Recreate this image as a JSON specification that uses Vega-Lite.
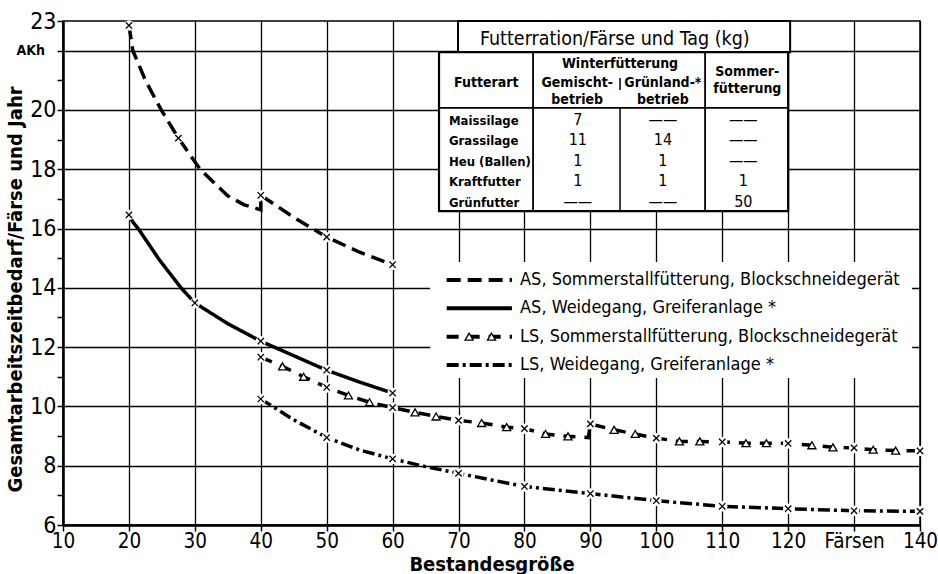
{
  "$schema": "https://vega.github.io/schema/vega-lite/v6.json",
  "width": 857,
  "height": 504,
  "autosize": {"type": "none"},
  "padding": {"left": 63, "top": 21, "right": 18, "bottom": 49},
  "background": "white",
  "datasets": {
    "curves": [
      {"series": "AS, Sommerstallfütterung, Blockschneidegerät", "x": 20, "y": 22.85, "m": "x"},
      {"series": "AS, Sommerstallfütterung, Blockschneidegerät", "x": 20.6, "y": 22.0},
      {"series": "AS, Sommerstallfütterung, Blockschneidegerät", "x": 22.5, "y": 21.0},
      {"series": "AS, Sommerstallfütterung, Blockschneidegerät", "x": 24.9, "y": 20.0},
      {"series": "AS, Sommerstallfütterung, Blockschneidegerät", "x": 27.5, "y": 19.05, "m": "x"},
      {"series": "AS, Sommerstallfütterung, Blockschneidegerät", "x": 30.8, "y": 18.0},
      {"series": "AS, Sommerstallfütterung, Blockschneidegerät", "x": 35, "y": 17.1},
      {"series": "AS, Sommerstallfütterung, Blockschneidegerät", "x": 37.5, "y": 16.8},
      {"series": "AS, Sommerstallfütterung, Blockschneidegerät", "x": 40, "y": 16.63},
      {"series": "AS, Sommerstallfütterung, Blockschneidegerät", "x": 40, "y": 17.12, "m": "x"},
      {"series": "AS, Sommerstallfütterung, Blockschneidegerät", "x": 45, "y": 16.38},
      {"series": "AS, Sommerstallfütterung, Blockschneidegerät", "x": 50, "y": 15.71, "m": "x"},
      {"series": "AS, Sommerstallfütterung, Blockschneidegerät", "x": 55, "y": 15.2},
      {"series": "AS, Sommerstallfütterung, Blockschneidegerät", "x": 60, "y": 14.78, "m": "x"},
      {"series": "AS, Weidegang, Greiferanlage *", "x": 20, "y": 16.46, "m": "x"},
      {"series": "AS, Weidegang, Greiferanlage *", "x": 20.6, "y": 16.22},
      {"series": "AS, Weidegang, Greiferanlage *", "x": 21.4, "y": 16.0},
      {"series": "AS, Weidegang, Greiferanlage *", "x": 24.6, "y": 14.95},
      {"series": "AS, Weidegang, Greiferanlage *", "x": 27.9, "y": 14.0},
      {"series": "AS, Weidegang, Greiferanlage *", "x": 30, "y": 13.49, "m": "x"},
      {"series": "AS, Weidegang, Greiferanlage *", "x": 35, "y": 12.79},
      {"series": "AS, Weidegang, Greiferanlage *", "x": 40, "y": 12.2, "m": "x"},
      {"series": "AS, Weidegang, Greiferanlage *", "x": 45, "y": 11.71},
      {"series": "AS, Weidegang, Greiferanlage *", "x": 50, "y": 11.22, "m": "x"},
      {"series": "AS, Weidegang, Greiferanlage *", "x": 55, "y": 10.82},
      {"series": "AS, Weidegang, Greiferanlage *", "x": 60, "y": 10.45, "m": "x"},
      {"series": "LS, Sommerstallfütterung, Blockschneidegerät", "x": 40, "y": 11.66, "m": "x"},
      {"series": "LS, Sommerstallfütterung, Blockschneidegerät", "x": 43.3, "y": 11.35, "m": "tri"},
      {"series": "LS, Sommerstallfütterung, Blockschneidegerät", "x": 46.5, "y": 11.0, "m": "tri"},
      {"series": "LS, Sommerstallfütterung, Blockschneidegerät", "x": 50, "y": 10.64, "m": "x"},
      {"series": "LS, Sommerstallfütterung, Blockschneidegerät", "x": 53.3, "y": 10.37, "m": "tri"},
      {"series": "LS, Sommerstallfütterung, Blockschneidegerät", "x": 56.5, "y": 10.14, "m": "tri"},
      {"series": "LS, Sommerstallfütterung, Blockschneidegerät", "x": 60, "y": 9.96, "m": "x"},
      {"series": "LS, Sommerstallfütterung, Blockschneidegerät", "x": 63.4, "y": 9.8, "m": "tri"},
      {"series": "LS, Sommerstallfütterung, Blockschneidegerät", "x": 66.6, "y": 9.66, "m": "tri"},
      {"series": "LS, Sommerstallfütterung, Blockschneidegerät", "x": 70, "y": 9.53, "m": "x"},
      {"series": "LS, Sommerstallfütterung, Blockschneidegerät", "x": 73.5, "y": 9.44, "m": "tri"},
      {"series": "LS, Sommerstallfütterung, Blockschneidegerät", "x": 77.3, "y": 9.3, "m": "tri"},
      {"series": "LS, Sommerstallfütterung, Blockschneidegerät", "x": 80, "y": 9.25, "m": "x"},
      {"series": "LS, Sommerstallfütterung, Blockschneidegerät", "x": 83.2, "y": 9.07, "m": "tri"},
      {"series": "LS, Sommerstallfütterung, Blockschneidegerät", "x": 86.6, "y": 8.99, "m": "tri"},
      {"series": "LS, Sommerstallfütterung, Blockschneidegerät", "x": 89.7, "y": 8.95},
      {"series": "LS, Sommerstallfütterung, Blockschneidegerät", "x": 90, "y": 9.41, "m": "x"},
      {"series": "LS, Sommerstallfütterung, Blockschneidegerät", "x": 93.6, "y": 9.21, "m": "tri"},
      {"series": "LS, Sommerstallfütterung, Blockschneidegerät", "x": 96.8, "y": 9.07, "m": "tri"},
      {"series": "LS, Sommerstallfütterung, Blockschneidegerät", "x": 100, "y": 8.93, "m": "x"},
      {"series": "LS, Sommerstallfütterung, Blockschneidegerät", "x": 103.5, "y": 8.82, "m": "tri"},
      {"series": "LS, Sommerstallfütterung, Blockschneidegerät", "x": 106.6, "y": 8.82, "m": "tri"},
      {"series": "LS, Sommerstallfütterung, Blockschneidegerät", "x": 110, "y": 8.8, "m": "x"},
      {"series": "LS, Sommerstallfütterung, Blockschneidegerät", "x": 113.6, "y": 8.76, "m": "tri"},
      {"series": "LS, Sommerstallfütterung, Blockschneidegerät", "x": 116.7, "y": 8.76, "m": "tri"},
      {"series": "LS, Sommerstallfütterung, Blockschneidegerät", "x": 120, "y": 8.75, "m": "x"},
      {"series": "LS, Sommerstallfütterung, Blockschneidegerät", "x": 123.6, "y": 8.69, "m": "tri"},
      {"series": "LS, Sommerstallfütterung, Blockschneidegerät", "x": 126.8, "y": 8.62, "m": "tri"},
      {"series": "LS, Sommerstallfütterung, Blockschneidegerät", "x": 130, "y": 8.6, "m": "x"},
      {"series": "LS, Sommerstallfütterung, Blockschneidegerät", "x": 132.9, "y": 8.54, "m": "tri"},
      {"series": "LS, Sommerstallfütterung, Blockschneidegerät", "x": 136.3, "y": 8.51, "m": "tri"},
      {"series": "LS, Sommerstallfütterung, Blockschneidegerät", "x": 140, "y": 8.5, "m": "x"},
      {"series": "LS, Weidegang, Greiferanlage *", "x": 40, "y": 10.25, "m": "x"},
      {"series": "LS, Weidegang, Greiferanlage *", "x": 45, "y": 9.55},
      {"series": "LS, Weidegang, Greiferanlage *", "x": 50, "y": 8.95, "m": "x"},
      {"series": "LS, Weidegang, Greiferanlage *", "x": 55, "y": 8.53},
      {"series": "LS, Weidegang, Greiferanlage *", "x": 60, "y": 8.23, "m": "x"},
      {"series": "LS, Weidegang, Greiferanlage *", "x": 65, "y": 7.97},
      {"series": "LS, Weidegang, Greiferanlage *", "x": 70, "y": 7.74, "m": "x"},
      {"series": "LS, Weidegang, Greiferanlage *", "x": 75, "y": 7.52},
      {"series": "LS, Weidegang, Greiferanlage *", "x": 80, "y": 7.3, "m": "x"},
      {"series": "LS, Weidegang, Greiferanlage *", "x": 90, "y": 7.06, "m": "x"},
      {"series": "LS, Weidegang, Greiferanlage *", "x": 100, "y": 6.82, "m": "x"},
      {"series": "LS, Weidegang, Greiferanlage *", "x": 110, "y": 6.63, "m": "x"},
      {"series": "LS, Weidegang, Greiferanlage *", "x": 120, "y": 6.55, "m": "x"},
      {"series": "LS, Weidegang, Greiferanlage *", "x": 130, "y": 6.48, "m": "x"},
      {"series": "LS, Weidegang, Greiferanlage *", "x": 140, "y": 6.46, "m": "x"}
    ],
    "table": [
      {"futterart": "Maissilage", "gemischt": "7", "gruenland": "——", "sommer": "——"},
      {"futterart": "Grassilage", "gemischt": "11", "gruenland": "14", "sommer": "——"},
      {"futterart": "Heu (Ballen)", "gemischt": "1", "gruenland": "1", "sommer": "——"},
      {"futterart": "Kraftfutter", "gemischt": "1", "gruenland": "1", "sommer": "1"},
      {"futterart": "Grünfutter", "gemischt": "——", "gruenland": "——", "sommer": "50"}
    ]
  },
  "layer": [
    {
      "layer": [
        {
          "data": {"values": [{}]},
          "mark": {"type": "rect", "fill": "white", "strokeWidth": 0},
          "encoding": {
            "x": {"datum": 65.7, "scale": {"domain": [10, 140], "nice": false, "zero": false}},
            "x2": {"datum": 138.8},
            "y": {"datum": 10.96, "scale": {"domain": [6, 23], "nice": false, "zero": false}},
            "y2": {"datum": 14.87}
          }
        },
        {
          "data": {"name": "curves"},
          "mark": {"type": "line", "color": "black", "strokeWidth": 3.5, "interpolate": "linear"},
          "encoding": {
            "x": {
              "field": "x", "type": "quantitative",
              "axis": {
                "values": [10, 20, 30, 40, 50, 60, 70, 80, 90, 100, 110, 120, 130, 140],
                "tickCount": 30, "format": "d",
                "title": "Bestandesgröße",
                "labelExpr": "datum.value == 130 ? 'Färsen' : datum.label",
                "grid": true, "gridColor": "black", "gridWidth": 1.3, "gridOpacity": 1,
                "domainColor": "black", "domainWidth": 2.5,
                "tickColor": "black", "tickSize": 6, "tickWidth": 1.5,
                "labelFontSize": 20.5, "labelColor": "black", "labelPadding": 0,
                "labelFlush": false, "labelOverlap": false,
                "titleFontSize": 20, "titleFontWeight": "bold", "titleColor": "black",
                "titleY": 45, "titleBaseline": "alphabetic"
              }
            },
            "y": {
              "field": "y", "type": "quantitative",
              "axis": {
                "values": [6, 7, 8, 9, 10, 11, 12, 13, 14, 15, 16, 17, 18, 19, 20, 21, 22, 23],
                "tickCount": 40, "format": "d",
                "title": "Gesamtarbeitszeitbedarf/Färse und Jahr",
                "labelExpr": "datum.value == 22 ? '' : ((datum.value % 2 == 0 || datum.value > 22.5) ? datum.label : '')",
                "grid": true, "gridColor": "black", "gridWidth": 1.3,
                "gridOpacity": {"condition": {"test": "datum.value % 2 == 1", "value": 0}, "value": 1},
                "domainColor": "black", "domainWidth": 2.5,
                "tickColor": "black", "tickSize": 6, "tickWidth": 1.5,
                "labelFontSize": 23, "labelColor": "black", "labelPadding": 1,
                "labelFlush": false, "labelOverlap": false, "labelBound": false,
                "titleFontSize": 20, "titleFontWeight": "bold", "titleColor": "black", "titlePadding": 4,
                "titleY": 268
              }
            },
            "strokeDash": {
              "field": "series", "type": "nominal",
              "scale": {
                "domain": ["AS, Sommerstallfütterung, Blockschneidegerät", "AS, Weidegang, Greiferanlage *", "LS, Sommerstallfütterung, Blockschneidegerät", "LS, Weidegang, Greiferanlage *"],
                "range": [[14, 7], [1, 0], [12, 9], [12, 4, 3, 4]]
              },
              "legend": null
            },
            "order": {"value": null}
          }
        },
        {
          "data": {"name": "curves"},
          "transform": [{"filter": {"field": "m", "equal": "x"}}],
          "mark": {"type": "point", "filled": true, "fill": "white", "strokeWidth": 0, "size": 110, "opacity": 1},
          "encoding": {
            "x": {"field": "x", "type": "quantitative"},
            "y": {"field": "y", "type": "quantitative"}
          }
        },
        {
          "data": {"name": "curves"},
          "transform": [{"filter": {"field": "m", "oneOf": ["x", "tri"]}}],
          "mark": {"type": "point", "filled": true, "fill": "white", "stroke": "black", "strokeWidth": 1.3, "opacity": 1},
          "encoding": {
            "x": {"field": "x", "type": "quantitative"},
            "y": {"field": "y", "type": "quantitative"},
            "shape": {
              "field": "m", "type": "nominal",
              "scale": {"domain": ["x", "tri"], "range": ["M-1,-1L1,1M-1,1L1,-1", "triangle-up"]},
              "legend": null
            },
            "size": {
              "field": "m", "type": "nominal",
              "scale": {"domain": ["x", "tri"], "range": [40, 65]},
              "legend": null
            }
          }
        },
        {
          "data": {"values": [{}]},
          "mark": {"type": "rect", "fill": "white", "stroke": "black", "strokeWidth": 2},
          "encoding": {"x": {"datum": 69.92}, "x2": {"datum": 120.3}, "y": {"datum": 21.95}, "y2": {"datum": 23}}
        },
        {
          "data": {"values": [{}]},
          "mark": {"type": "rect", "fill": "white", "stroke": "black", "strokeWidth": 2.2},
          "encoding": {"x": {"datum": 67.04}, "x2": {"datum": 120.0}, "y": {"datum": 16.59}, "y2": {"datum": 21.95}}
        },
        {
          "data": {"values": [{}]},
          "mark": {"type": "rule", "color": "black", "strokeWidth": 1.8},
          "encoding": {"x": {"datum": 67.04}, "x2": {"datum": 120.0}, "y": {"datum": 20.07}}
        },
        {
          "data": {"values": [{}]},
          "mark": {"type": "rule", "color": "black", "strokeWidth": 1.8},
          "encoding": {"x": {"datum": 81.3}, "y": {"datum": 16.59}, "y2": {"datum": 21.95}}
        },
        {
          "data": {"values": [{}]},
          "mark": {"type": "rule", "color": "black", "strokeWidth": 1.8},
          "encoding": {"x": {"datum": 107.4}, "y": {"datum": 16.59}, "y2": {"datum": 21.95}}
        },
        {
          "data": {"values": [{}]},
          "mark": {"type": "rule", "color": "black", "strokeWidth": 1.5},
          "encoding": {"x": {"datum": 94.5}, "y": {"datum": 16.59}, "y2": {"datum": 20.07}}
        },
        {
          "data": {"values": [{}]},
          "mark": {"type": "rule", "color": "black", "strokeWidth": 1.5},
          "encoding": {"x": {"datum": 94.5}, "y": {"datum": 20.67}, "y2": {"datum": 21.08}}
        },
        {
          "data": {"values": [{}]},
          "mark": {"type": "text", "text": "Futterration/Färse und Tag (kg)", "fontSize": 19.5, "color": "black", "align": "center", "baseline": "alphabetic"},
          "encoding": {"x": {"datum": 93.7}, "y": {"datum": 22.19}}
        },
        {
          "data": {"values": [{}]},
          "mark": {"type": "text", "text": "Futterart", "fontSize": 14, "fontWeight": "bold", "color": "black", "align": "center", "baseline": "alphabetic"},
          "encoding": {"x": {"datum": 74.2}, "y": {"datum": 20.77}}
        },
        {
          "data": {"values": [{}]},
          "mark": {"type": "text", "text": "Winterfütterung", "fontSize": 14, "fontWeight": "bold", "color": "black", "align": "center", "baseline": "alphabetic"},
          "encoding": {"x": {"datum": 94.5}, "y": {"datum": 21.41}}
        },
        {
          "data": {"values": [{}]},
          "mark": {"type": "text", "text": ["Gemischt-", "betrieb"], "lineHeight": 17, "fontSize": 14, "fontWeight": "bold", "color": "black", "align": "center", "baseline": "alphabetic"},
          "encoding": {"x": {"datum": 88.0}, "y": {"datum": 20.77}}
        },
        {
          "data": {"values": [{}]},
          "mark": {"type": "text", "text": ["Grünland-*", "betrieb"], "lineHeight": 17, "fontSize": 14, "fontWeight": "bold", "color": "black", "align": "center", "baseline": "alphabetic"},
          "encoding": {"x": {"datum": 101.0}, "y": {"datum": 20.77}}
        },
        {
          "data": {"values": [{}]},
          "mark": {"type": "text", "text": ["Sommer-", "fütterung"], "lineHeight": 17, "fontSize": 14, "fontWeight": "bold", "color": "black", "align": "center", "baseline": "alphabetic"},
          "encoding": {"x": {"datum": 113.8}, "y": {"datum": 21.15}}
        },
        {
          "data": {"values": [{}]},
          "mark": {"type": "text", "text": "AKh", "fontSize": 14, "fontWeight": "bold", "color": "black", "align": "right", "baseline": "middle", "dx": -18},
          "encoding": {"x": {"datum": 10}, "y": {"datum": 22}}
        }
      ]
    },
    {
      "data": {"name": "table"},
      "encoding": {
        "y": {"field": "futterart", "type": "nominal", "sort": null, "axis": null,
              "scale": {"type": "point", "domain": ["Maissilage", "Grassilage", "Heu (Ballen)", "Kraftfutter", "Grünfutter"], "range": [104, 185.7], "padding": 0}}
      },
      "layer": [
        {
          "mark": {"type": "text", "fontSize": 13, "fontWeight": "bold", "color": "black", "align": "left", "baseline": "alphabetic"},
          "encoding": {
            "x": {"datum": 68.55, "scale": {"domain": [10, 140], "nice": false, "zero": false}, "axis": null},
            "text": {"field": "futterart"}
          }
        },
        {
          "mark": {"type": "text", "fontSize": 16, "color": "black", "align": "center", "baseline": "alphabetic"},
          "encoding": {"x": {"datum": 88.1, "axis": null}, "text": {"field": "gemischt"}}
        },
        {
          "mark": {"type": "text", "fontSize": 16, "color": "black", "align": "center", "baseline": "alphabetic"},
          "encoding": {"x": {"datum": 101.0, "axis": null}, "text": {"field": "gruenland"}}
        },
        {
          "mark": {"type": "text", "fontSize": 16, "color": "black", "align": "center", "baseline": "alphabetic"},
          "encoding": {"x": {"datum": 113.2, "axis": null}, "text": {"field": "sommer"}}
        }
      ]
    },
    {
      "data": {"name": "curves"},
      "transform": [{"aggregate": [], "groupby": ["series"]}],
      "encoding": {
        "y": {"field": "series", "type": "nominal", "sort": null, "axis": null,
              "scale": {"type": "point", "domain": ["AS, Sommerstallfütterung, Blockschneidegerät", "AS, Weidegang, Greiferanlage *", "LS, Sommerstallfütterung, Blockschneidegerät", "LS, Weidegang, Greiferanlage *"], "range": [259, 344], "padding": 0}}
      },
      "layer": [
        {
          "mark": {"type": "rule", "color": "black", "strokeWidth": 4},
          "encoding": {
            "x": {"datum": 68.2, "scale": {"domain": [10, 140], "nice": false, "zero": false}, "axis": null},
            "x2": {"datum": 78.1},
            "strokeDash": {"field": "series", "type": "nominal", "legend": null}
          }
        },
        {
          "transform": [{"filter": {"field": "series", "equal": "LS, Sommerstallfütterung, Blockschneidegerät"}}],
          "mark": {"type": "point", "shape": "triangle-up", "filled": true, "fill": "white", "stroke": "black", "strokeWidth": 1.3, "size": 65, "opacity": 1},
          "encoding": {"x": {"datum": 71.6, "axis": null}}
        },
        {
          "transform": [{"filter": {"field": "series", "equal": "LS, Sommerstallfütterung, Blockschneidegerät"}}],
          "mark": {"type": "point", "shape": "triangle-up", "filled": true, "fill": "white", "stroke": "black", "strokeWidth": 1.3, "size": 65, "opacity": 1},
          "encoding": {"x": {"datum": 75.0, "axis": null}}
        },
        {
          "mark": {"type": "text", "fontSize": 18, "color": "black", "align": "left", "baseline": "middle"},
          "encoding": {"x": {"datum": 79.33, "axis": null}, "text": {"field": "series"}}
        }
      ]
    }
  ],
  "resolve": {"scale": {"x": "independent", "y": "independent"}},
  "config": {
    "font": "Liberation Sans Narrow, DejaVu Sans Condensed, Liberation Sans, sans-serif",
    "view": {"stroke": "black", "strokeWidth": 1.5}
  }
}
